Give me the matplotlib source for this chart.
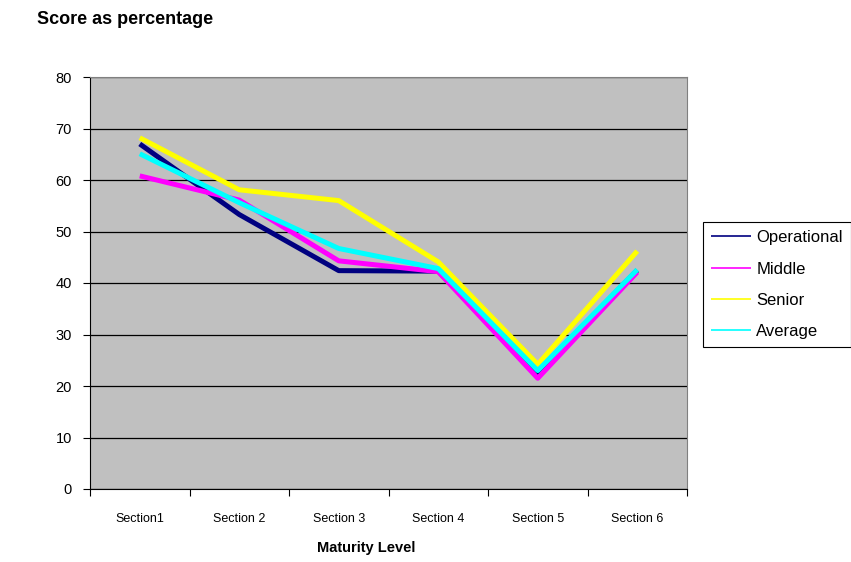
import matplotlib
matplotlib.use("Agg")
import numpy as np
import matplotlib.pyplot as plt

plt.rcParams['font.family'] = ['Liberation Sans', 'DejaVu Sans']

# data
sections = ["Section1", "Section 2", "Section 3", "Section 4", "Section 5", "Section 6"]
operational = [67.0, 53.3, 42.4, 42.3, 22.5, 42.5]
middle = [60.8, 56.1, 44.3, 42.2, 21.5, 42.1]
senior = [68.2, 58.1, 56.0, 44.1, 24.2, 46.2]
average = [65.1, 55.6, 46.7, 42.8, 23.0, 42.6]

fig = plt.figure(figsize=(8.51, 5.62), dpi=100)
ax = fig.add_axes([90/851, 73/562, 597/851, 412/562])
ax.set_facecolor("#c0c0c0")

x = np.arange(len(sections))
series = [("Operational", operational, "#000080"),
          ("Middle", middle, "#ff00ff"),
          ("Senior", senior, "#ffff00"),
          ("Average", average, "#00ffff")]
for name, vals, col in series:
    ax.plot(x, vals, color=col, lw=3.6, label=name, solid_capstyle="butt")

ax.set_xlim(-0.5, len(sections) - 0.5)
ax.set_ylim(0, 80)
ax.set_yticks(range(0, 81, 10))
ax.yaxis.grid(True, color="black", lw=0.9)
ax.set_axisbelow(True)

# category labels sit between the boundary ticks
ax.set_xticks(np.arange(-0.5, len(sections), 1))
ax.set_xticklabels([])
ax.set_xticks(x, minor=True)
ax.set_xticklabels(sections, minor=True)
ax.tick_params(axis="x", which="minor", length=0, pad=17, labelsize=9)
ax.tick_params(axis="x", which="major", length=5, color="black")
ax.tick_params(axis="y", length=5, labelsize=10.5, pad=8)

for s in ["top", "right"]:
    ax.spines[s].set_color("#808080")
for s in ["left", "bottom"]:
    ax.spines[s].set_color("black")

fig.text(366/851, 1 - 548/562, "Maturity Level", fontsize=10.5,
         fontweight="bold", ha="center", va="center")
fig.text(37/851, 1 - 20/562, "Score as percentage", fontsize=13,
         fontweight="bold", va="center", ha="left")

leg = fig.legend(loc="upper left", bbox_to_anchor=(703/851, 1 - 222/562),
                 fancybox=False, edgecolor="black", framealpha=1,
                 fontsize=12, handlelength=2.4, handletextpad=0.3,
                 labelspacing=0.97, borderpad=0.5, borderaxespad=0)
leg.get_frame().set_linewidth(0.8)
for line in leg.get_lines():
    line.set_linewidth(1.2)

fig.savefig("out.png", dpi=100)
